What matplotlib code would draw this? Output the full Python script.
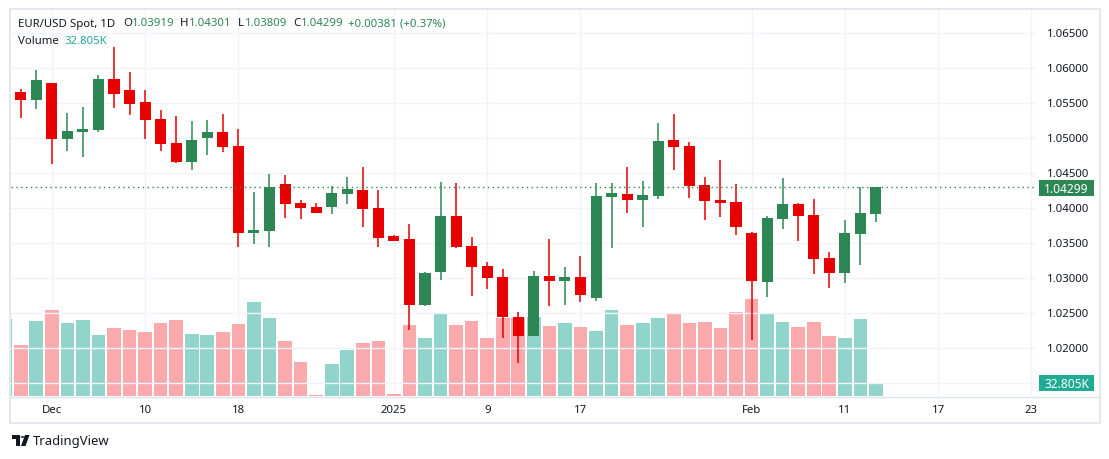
import numpy as np
import matplotlib
matplotlib.use("Agg")
import matplotlib.pyplot as plt
from matplotlib.patches import Rectangle, Circle, Polygon
from matplotlib.transforms import blended_transform_factory

plt.rcParams['font.family'] = ['Noto Sans', 'DejaVu Sans']

dates = ["Nov 27", "Nov 28", "Nov 29", "Dec 2", "Dec 3", "Dec 4", "Dec 5", "Dec 6",
         "Dec 9", "Dec 10", "Dec 11", "Dec 12", "Dec 13", "Dec 16", "Dec 17", "Dec 18",
         "Dec 19", "Dec 20", "Dec 23", "Dec 24", "Dec 25", "Dec 26", "Dec 27", "Dec 30",
         "Dec 31", "Jan 1", "Jan 2", "Jan 3", "Jan 6", "Jan 7", "Jan 8", "Jan 9", "Jan 10",
         "Jan 13", "Jan 14", "Jan 15", "Jan 16", "Jan 17", "Jan 20", "Jan 21", "Jan 22",
         "Jan 23", "Jan 24", "Jan 27", "Jan 28", "Jan 29", "Jan 30", "Jan 31", "Feb 3",
         "Feb 4", "Feb 5", "Feb 6", "Feb 7", "Feb 10", "Feb 11", "Feb 12", "Feb 13"]

opens = [1.0490, 1.05662, 1.05552, 1.05790, 1.04995, 1.05095, 1.05124, 1.05848,
         1.05690, 1.05519, 1.05276, 1.04933, 1.04662, 1.05005, 1.05090, 1.04890,
         1.03648, 1.03676, 1.04348, 1.04076, 1.04019, 1.04019, 1.04205, 1.04262,
         1.04005, 1.03605, 1.03562, 1.02619, 1.03090, 1.03890, 1.03462, 1.03176, 1.03019,
         1.02448, 1.02176, 1.03033, 1.02962, 1.03019, 1.02719, 1.04162, 1.04205,
         1.04119, 1.04176, 1.04976, 1.04890, 1.04333, 1.04119, 1.04090, 1.03648,
         1.02948, 1.03848, 1.04062, 1.03905, 1.03290, 1.03076, 1.03633, 1.03919]
highs = [1.0588, 1.05705, 1.05976, 1.05795, 1.05362, 1.05448, 1.05905, 1.06305,
         1.05948, 1.05690, 1.05405, 1.05319, 1.05248, 1.05262, 1.05348, 1.05133,
         1.04233, 1.04490, 1.04476, 1.04119, 1.04076, 1.04319, 1.04448, 1.04590,
         1.04262, 1.03619, 1.03776, 1.03090, 1.04376, 1.04362, 1.03590, 1.03233, 1.03133,
         1.02519, 1.03105, 1.03562, 1.03162, 1.03319, 1.04362, 1.04362, 1.04590,
         1.04390, 1.05219, 1.05348, 1.04948, 1.04448, 1.04690, 1.04348, 1.03655,
         1.03890, 1.04433, 1.04076, 1.04133, 1.03376, 1.03833, 1.04305, 1.04301]
lows = [1.0480, 1.05290, 1.05419, 1.04624, 1.04824, 1.04738, 1.05095, 1.05433,
        1.05338, 1.04995, 1.04824, 1.04648, 1.04548, 1.04762, 1.04805, 1.03448,
        1.03490, 1.03448, 1.03862, 1.03848, 1.03933, 1.03919, 1.04062, 1.03733,
        1.03448, 1.03533, 1.02262, 1.02605, 1.02976, 1.03430, 1.02748, 1.02848, 1.02148,
        1.01790, 1.02170, 1.02605, 1.02619, 1.02662, 1.02676, 1.03433, 1.03933,
        1.03733, 1.04133, 1.04548, 1.04148, 1.03833, 1.03876, 1.03619, 1.02119,
        1.02733, 1.03705, 1.03533, 1.03062, 1.02862, 1.02933, 1.03190, 1.03809]
closes = [1.0565, 1.05552, 1.05833, 1.04995, 1.05105, 1.05133, 1.05848, 1.05638,
          1.05495, 1.05267, 1.04919, 1.04662, 1.04976, 1.05090, 1.04876, 1.03648,
          1.03690, 1.04305, 1.04062, 1.04005, 1.03933, 1.04219, 1.04276, 1.03990,
          1.03576, 1.03533, 1.02619, 1.03076, 1.03890, 1.03448, 1.03162, 1.03005, 1.02448,
          1.02176, 1.03033, 1.02962, 1.03019, 1.02762, 1.04176, 1.04219, 1.04119,
          1.04190, 1.04962, 1.04876, 1.04319, 1.04105, 1.04076, 1.03733, 1.02962,
          1.03862, 1.04062, 1.03890, 1.03276, 1.03076, 1.03648, 1.03933, 1.04299]
volumes_k = [198.1, 131.0, 193.0, 221.4, 187.8, 195.5, 156.8, 174.9,
             169.7, 164.5, 187.8, 195.5, 159.4, 156.8, 164.5, 185.2,
             242.0, 200.7, 141.3, 87.0, 2.6, 81.9, 118.0, 136.1,
             141.3, 4.4, 182.6, 149.0, 211.0, 182.6, 193.0, 149.0, 200.7,
             200.7, 203.3, 180.0, 187.8, 177.5, 167.1, 221.4, 182.6,
             187.8, 200.7, 213.6, 187.8, 190.4, 174.9, 216.2, 249.8,
             213.6, 190.4, 177.5, 190.4, 154.2, 149.0, 198.1, 32.805]

tick_pos = [3, 9, 15, 25, 31, 37, 48, 54, 60, 66]
tick_labels = ["Dec", "10", "18", "2025", "9", "17", "Feb", "11", "17", "23"]
price_levels = [1.020, 1.025, 1.030, 1.035, 1.040, 1.045, 1.050, 1.055, 1.060, 1.065]

UP = '#2c8755'
DN = '#e80000'
VUP = '#90d4cb'
VDN = '#faa9ad'
GRID = '#f0f3fa'
TXT = '#131722'

W, H = 1109, 460
fig = plt.figure(figsize=(W / 100, H / 100), dpi=100)
fig.patch.set_facecolor('white')

def fx(px):
    return px / W

def fy(py):
    return 1 - py / H

ax_l, ax_r, ax_t, ax_b = 11, 1036, 11, 397
ax = fig.add_axes([fx(ax_l), fy(ax_b), fx(ax_r - ax_l), (ax_b - ax_t) / H])
axv = ax.twinx()
ax.set_zorder(2)
ax.patch.set_visible(False)
axv.set_zorder(1)

x = np.arange(len(opens))
o = np.array(opens); c = np.array(closes); h = np.array(highs); l = np.array(lows)
up = c >= o

x0 = (ax_l - 5.15) / 15.55
x1 = (ax_r - 5.15) / 15.55
ymin = 1.015 - 13 / 7000
ymax = 1.065 + 23.3 / 7000
ax.set_xlim(x0, x1)
ax.set_ylim(ymin, ymax)
axv.set_ylim(0, 997)

# grid
for p in price_levels + [1.015]:
    ax.axhline(p, color=GRID, lw=1, zorder=0)
for t in tick_pos:
    axv.axvline(t, color=GRID, lw=1, zorder=0)

# volume
vcols = [VUP if u else VDN for u in up]
axv.bar(x, volumes_k, width=0.88, color=vcols, linewidth=0, zorder=2)

# candles
cols = [UP if u else DN for u in up]
ax.vlines(x, l, h, colors=cols, linewidth=1.1, zorder=3)
body_lo = np.minimum(o, c)
body_h = np.maximum(np.abs(c - o), 0.00015)
ax.bar(x, body_h, bottom=body_lo, width=0.71, color=cols, linewidth=0, zorder=4)

# last price dotted line
ax.axhline(closes[-1], color=UP, lw=1, linestyle=(0, (1, 2.5)), zorder=5)

for a in (ax, axv):
    for s in a.spines.values():
        s.set_visible(False)
    a.set_xticks([])
    a.set_yticks([])

# outer frame
fig.add_artist(Rectangle((fx(10), fy(424)), fx(1090), 414 / H, transform=fig.transFigure,
                         fill=False, edgecolor='#e0e3eb', lw=1.2))
fig.add_artist(plt.Line2D([fx(10), fx(1100)], [fy(397.5), fy(397.5)],
                          transform=fig.transFigure, color='#e0e3eb', lw=1))

# price axis labels
tr = blended_transform_factory(fig.transFigure, ax.transData)
for p in price_levels:
    ax.text(fx(1068), p, f"{p:.5f}", transform=tr, ha='center', va='center',
            fontsize=8.2, color=TXT, clip_on=False)

def box(ytop, ybot, color, text):
    fig.add_artist(Rectangle((fx(1039), fy(ybot)), fx(55), (ybot - ytop) / H,
                             transform=fig.transFigure, facecolor=color, edgecolor='none'))
    fig.text(fx(1066.5), fy((ytop + ybot) / 2 + 0.5), text, ha='center', va='center',
             fontsize=8.6, color='white', fontweight='bold')

box(181, 197, UP, "1.04299")
box(376, 392, '#22ab94', "32.805K")

# time axis labels
trx = blended_transform_factory(ax.transData, fig.transFigure)
for t, lab in zip(tick_pos, tick_labels):
    ax.text(t, fy(410.5), lab, transform=trx, ha='center', va='center', fontsize=8.2,
            color=TXT, fontweight='bold' if lab == '2025' else 'normal', clip_on=False)

# header
hy = fy(24)
fs = 8.2
fig.text(fx(18), hy, "EUR/USD Spot, 1D", fontsize=fs, color=TXT, va='center')
items = [(123, 9, "O", "1.03919"), (180, 8.5, "H", "1.04301"),
         (238, 6.5, "L", "1.03809"), (293, 8, "C", "1.04299")]
for px, off, k, v in items:
    fig.text(fx(px), hy, k, fontsize=fs, color=TXT, va='center')
    fig.text(fx(px + off), hy, v, fontsize=fs, color=UP, va='center')
fig.text(fx(348), hy, "+0.00381 (+0.37%)", fontsize=fs, color=UP, va='center')
fig.text(fx(18), fy(41), "Volume", fontsize=fs, color=TXT, va='center')
fig.text(fx(64), fy(41), "32.805K", fontsize=fs, color='#26a69a', va='center')

# TradingView logo
LOGO = '#131722'
fig.add_artist(Rectangle((fx(12), fy(440)), fx(8), 4 / H, transform=fig.transFigure,
                         facecolor=LOGO, edgecolor='none'))
fig.add_artist(Rectangle((fx(16), fy(447)), fx(4), 11 / H, transform=fig.transFigure,
                         facecolor=LOGO, edgecolor='none'))
fig.add_artist(Circle((fx(22.5), fy(438)), 2 / W, transform=fig.transFigure,
                      facecolor=LOGO, edgecolor='none'))
fig.add_artist(Polygon([(fx(25), fy(436)), (fx(29.5), fy(436)), (fx(25.5), fy(447)), (fx(21), fy(447))],
                       closed=True, transform=fig.transFigure, facecolor=LOGO, edgecolor='none'))
fig.text(fx(33), fy(441.5), "TradingView", fontsize=9.4, color=TXT, va='center')

fig.savefig("out.png", dpi=100, facecolor='white')
